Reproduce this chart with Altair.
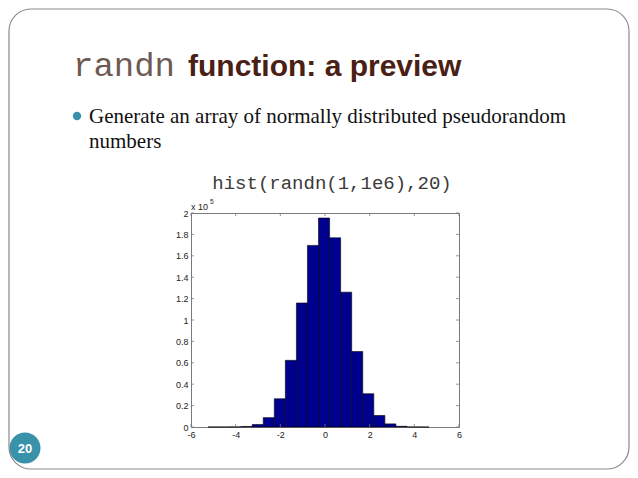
import altair as alt
import pandas as pd

# Histogram of randn(1,1e6) with 20 bins
bin_lo = -5.24
bin_width = 0.495
counts = [1, 9, 76, 470, 2300, 8750, 26400, 62300, 115900, 169700,
          195300, 176800, 126000, 70500, 31100, 10760, 2900, 630, 105, 14]

x_ticks = [-6, -4, -2, 0, 2, 4, 6]
y_ticks = [0, 20000, 40000, 60000, 80000, 100000, 120000, 140000, 160000, 180000, 200000]

title_code = "randn"
title_rest = "function: a preview"
bullet_line1 = "Generate an array of normally distributed pseudorandom"
bullet_line2 = "numbers"
code_text = "hist(randn(1,1e6),20)"
page_number = "20"

W, H = 268, 214

bars_df = pd.DataFrame({
    "x0": [bin_lo + i * bin_width for i in range(len(counts))],
    "x1": [bin_lo + (i + 1) * bin_width for i in range(len(counts))],
    "count": counts,
    "zero": [0] * len(counts),
})
xt_df = pd.DataFrame({"x0": x_ticks})
yt_df = pd.DataFrame({"count": y_ticks})

xs = alt.Scale(domain=[-6, 6], nice=False, zero=False)
ys = alt.Scale(domain=[0, 200000], nice=False)

x_axis = alt.Axis(
    values=x_ticks, tickSize=0, domain=False, grid=False, title=None,
    labelExpr="datum.value < 0 ? '-' + abs(datum.value) : '' + datum.value",
    labelOverlap=False,
    labelFontSize=9, labelFont="Liberation Sans", labelColor="#222222",
    labelPadding=3, labelFlush=False)
y_axis = alt.Axis(
    values=y_ticks, tickSize=0, domain=False, grid=False, title=None,
    labelExpr="datum.value / 100000", labelOverlap=False,
    labelFontSize=9, labelFont="Liberation Sans", labelColor="#222222",
    labelPadding=3, labelFlush=False)

bars = alt.Chart(bars_df).mark_rect(
    color="#00008F", stroke="#000000", strokeWidth=0.6
).encode(
    x=alt.X("x0:Q", scale=xs, axis=x_axis),
    x2="x1:Q",
    y=alt.Y("count:Q", scale=ys, axis=y_axis),
    y2="zero:Q",
)

tick_color = "#7a7a7a"
xt_bottom = alt.Chart(xt_df).mark_rule(color=tick_color, strokeWidth=0.8).encode(
    x=alt.X("x0:Q", scale=xs, axis=x_axis), y=alt.value(H), y2=alt.value(H - 3))
xt_top = alt.Chart(xt_df).mark_rule(color=tick_color, strokeWidth=0.8).encode(
    x=alt.X("x0:Q", scale=xs, axis=x_axis), y=alt.value(0), y2=alt.value(3))
yt_left = alt.Chart(yt_df).mark_rule(color=tick_color, strokeWidth=0.8).encode(
    y=alt.Y("count:Q", scale=ys, axis=y_axis), x=alt.value(0), x2=alt.value(3))
yt_right = alt.Chart(yt_df).mark_rule(color=tick_color, strokeWidth=0.8).encode(
    y=alt.Y("count:Q", scale=ys, axis=y_axis), x=alt.value(W), x2=alt.value(W - 3))

one = pd.DataFrame({"k": [0]})

def txt(text, x, y, **kw):
    return alt.Chart(one).mark_text(text=text, baseline="alphabetic", **kw).encode(
        x=alt.value(x), y=alt.value(y))

exp_x = txt("x 10", 0, -3, align="left", font="Liberation Sans", fontSize=9, color="#222222")
exp_5 = txt("5", 19, -9, align="left", font="Liberation Sans", fontSize=6.5, color="#222222")

# slide decorations (pixel positions relative to the plot area)
border = alt.Chart(one).mark_rect(
    cornerRadius=22, fillOpacity=0, stroke="#8a8a8a", strokeWidth=1.2
).encode(x=alt.value(-182), x2=alt.value(438), y=alt.value(-204), y2=alt.value(256))

t1 = txt(title_code, -118, -137, align="left", font="Liberation Mono", fontSize=34,
         fontWeight="normal", color="#6e5a52")
t2 = txt(title_rest, -3, -137, align="left", font="Liberation Sans", fontSize=30,
         fontWeight="bold", color="#4a2015")
dot = alt.Chart(one).mark_circle(color="#3a92aa", opacity=1, size=70).encode(
    x=alt.value(-114), y=alt.value(-97))
b1 = txt(bullet_line1, -102, -90, align="left", font="Liberation Serif", fontSize=21, color="#111111")
b2 = txt(bullet_line2, -102, -65, align="left", font="Liberation Serif", fontSize=21, color="#111111")
code = txt(code_text, 141, -24, align="center", font="Liberation Mono", fontSize=19, color="#3a3a3a")
pg_circle = alt.Chart(one).mark_circle(color="#3a92aa", opacity=1, size=960).encode(
    x=alt.value(-166), y=alt.value(235))
pg_text = alt.Chart(one).mark_text(text=page_number, align="center", baseline="middle",
                                   font="Liberation Sans", fontSize=13, fontWeight="bold",
                                   color="white").encode(x=alt.value(-166), y=alt.value(236))

chart = alt.layer(
    border, bars, xt_bottom, xt_top, yt_left, yt_right, exp_x, exp_5,
    t1, t2, dot, b1, b2, code, pg_circle, pg_text
).properties(
    width=W, height=H,
    autosize=alt.AutoSizeParams(type="none"),
    padding={"left": 183, "top": 205, "right": 171, "bottom": 43},
    background="white",
).configure_view(stroke="#7a7a7a", strokeWidth=1)

chart.save("out.html", embed_options={"renderer": "svg", "actions": False})
